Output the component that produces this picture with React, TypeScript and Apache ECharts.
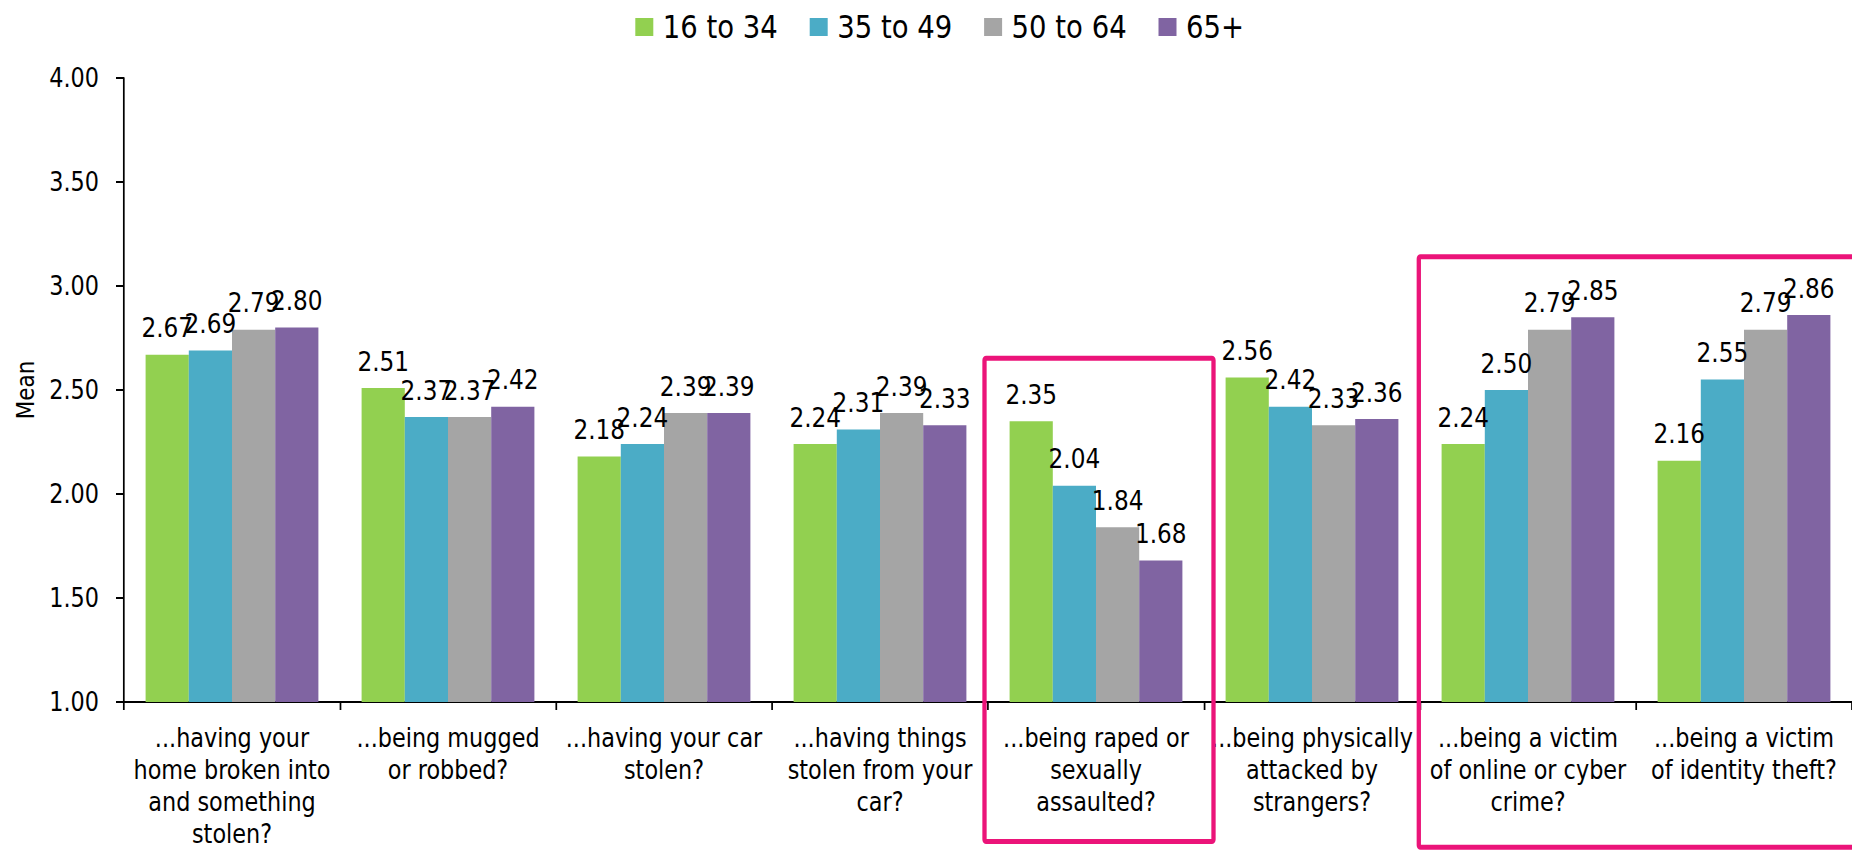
import React, { useEffect, useRef } from "react";
import * as echarts from "echarts";

// Horizontal squeeze applied to the whole chart so DejaVu Sans gets a Tahoma-like width
const FULL_W = 1852;
const FULL_H = 851;
const INNER_W = 2154;
const S = FULL_W / INNER_W;
const px = (v: number) => v / S; // page x -> inner chart x

const FONT = "'DejaVu Sans', Verdana, sans-serif";

const categories = [
  "...having your\nhome broken into\nand something\nstolen?",
  "...being mugged\nor robbed?",
  "...having your car\nstolen?",
  "...having things\nstolen from your\ncar?",
  "...being raped or\nsexually\nassaulted?",
  "...being physically\nattacked by\nstrangers?",
  "...being a victim\nof online or cyber\ncrime?",
  "...being a victim\nof identity theft?",
];

const ageGroups = ["16 to 34", "35 to 49", "50 to 64", "65+"];
const age16to34 = [2.67, 2.51, 2.18, 2.24, 2.35, 2.56, 2.24, 2.16];
const age35to49 = [2.69, 2.37, 2.24, 2.31, 2.04, 2.42, 2.5, 2.55];
const age50to64 = [2.79, 2.37, 2.39, 2.39, 1.84, 2.33, 2.79, 2.79];
const age65plus = [2.8, 2.42, 2.39, 2.33, 1.68, 2.36, 2.85, 2.86];
const seriesValues = [age16to34, age35to49, age50to64, age65plus];
const colors = ["#92D050", "#4BACC6", "#A5A5A5", "#8064A2"];

const yMin = 1;
const yMax = 4;
const yStep = 0.5;

const HIGHLIGHT = "#EB1479";

export default function App() {
  const ref = useRef<HTMLDivElement>(null);

  useEffect(() => {
    if (!ref.current) return;
    const chart = echarts.init(ref.current, undefined, { renderer: "svg" });

    const series = ageGroups.map((name, i) => ({
      name,
      type: "bar",
      data: seriesValues[i],
      barGap: "0%",
      barCategoryGap: "20%",
      itemStyle: { color: colors[i] },
      label: {
        show: true,
        position: "top",
        distance: 13,
        fontSize: 27,
        fontFamily: FONT,
        color: "#000",
        formatter: (p: any) => Number(p.value).toFixed(2),
      },
    }));

    chart.setOption({
      animation: false,
      backgroundColor: "#fff",
      legend: {
        data: ageGroups,
        left: px(631),
        top: 6,
        icon: "rect",
        itemWidth: px(18),
        itemHeight: 18,
        itemGap: 37,
        textStyle: {
          fontSize: 32,
          fontFamily: FONT,
          color: "#000",
          padding: [0, 0, 0, 6],
        },
      },
      grid: {
        left: px(124),
        right: 0,
        top: 78,
        bottom: FULL_H - 702,
        containLabel: false,
      },
      xAxis: {
        type: "category",
        data: categories,
        axisLine: { show: true, lineStyle: { color: "#000", width: 2 } },
        axisTick: { show: true, length: 8, lineStyle: { color: "#000", width: 2 } },
        axisLabel: {
          interval: 0,
          margin: 20,
          fontSize: 26,
          lineHeight: 32,
          fontFamily: FONT,
          color: "#000",
          align: "center",
        },
      },
      yAxis: {
        type: "value",
        min: yMin,
        max: yMax,
        interval: yStep,
        axisLine: { show: true, lineStyle: { color: "#000", width: 2 } },
        axisTick: { show: true, length: px(8), lineStyle: { color: "#000", width: 2 } },
        splitLine: { show: false },
        axisLabel: {
          margin: px(25),
          fontSize: 26,
          fontFamily: FONT,
          color: "#000",
          formatter: (v: number) => v.toFixed(2),
        },
      },
      graphic: [
        {
          type: "text",
          x: px(25),
          y: 390,
          rotation: Math.PI / 2,
          scaleX: 0.86,
          scaleY: 1 / S,
          z: 100,
          style: {
            text: "Mean",
            fontSize: 25,
            fontFamily: FONT,
            fill: "#000",
            textAlign: "center",
            textVerticalAlign: "middle",
            align: "center",
            verticalAlign: "middle",
          },
        },
        {
          type: "rect",
          z: 100,
          shape: { x: px(984.5), y: 358.3, width: px(1213.5) - px(984.5), height: 841.5 - 358.3, r: 2 },
          style: { fill: "none", stroke: HIGHLIGHT, lineWidth: 5 },
        },
        {
          type: "rect",
          z: 100,
          shape: { x: px(1418.8), y: 256.7, width: px(1875) - px(1418.8), height: 847.2 - 256.7, r: 2 },
          style: { fill: "none", stroke: HIGHLIGHT, lineWidth: 5 },
        },
      ],
      series,
    });

    return () => chart.dispose();
  }, []);

  return (
    <div
      style={{
        position: "absolute",
        left: 0,
        top: 0,
        width: FULL_W,
        height: FULL_H,
        overflow: "hidden",
        background: "#fff",
      }}
    >
      <div
        ref={ref}
        style={{
          width: INNER_W,
          height: FULL_H,
          transform: `scaleX(${S})`,
          transformOrigin: "0 0",
        }}
      />
    </div>
  );
}
